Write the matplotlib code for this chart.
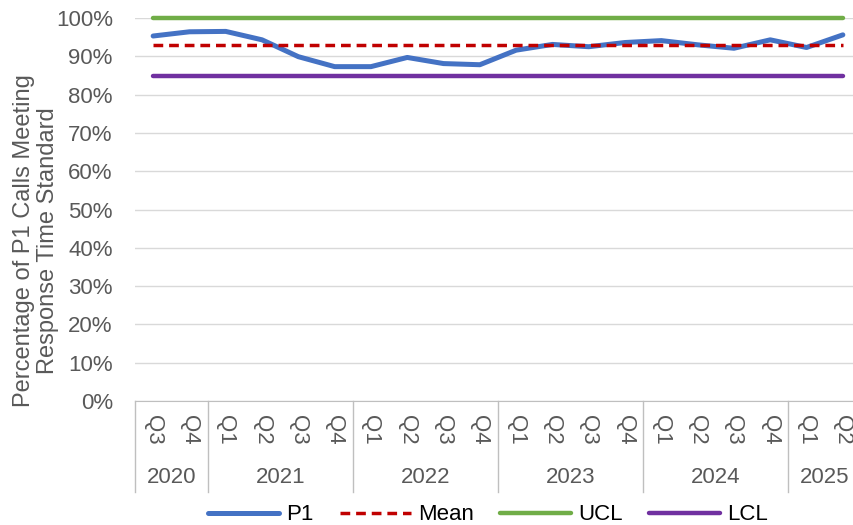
import matplotlib.pyplot as plt
import matplotlib.transforms as mtransforms
import numpy as np

plt.rcParams['font.family'] = ['Liberation Sans', 'DejaVu Sans']

quarters = ['Q3', 'Q4', 'Q1', 'Q2', 'Q3', 'Q4', 'Q1', 'Q2', 'Q3', 'Q4',
            'Q1', 'Q2', 'Q3', 'Q4', 'Q1', 'Q2', 'Q3', 'Q4', 'Q1', 'Q2']
years = ['2020', '2021', '2022', '2023', '2024', '2025']
year_counts = [2, 4, 4, 4, 4, 2]
p1 = [95.3, 96.4, 96.5, 94.3, 89.9, 87.3, 87.3, 89.7, 88.1, 87.8,
      91.6, 93.1, 92.5, 93.6, 94.1, 93.0, 92.1, 94.3, 92.3, 95.6]
mean_val = 93.0
ucl_val = 100.0
lcl_val = 84.8

n = len(p1)
x = np.arange(n)
grey_txt = '#595959'

fig = plt.figure(figsize=(8.54, 5.25), dpi=100)
# axes spans pixel 135..861 horizontally, 18..401 vertically
ax = fig.add_axes([135/854, 1 - 401/525, 726/854, 383/525])

ax.plot(x, p1, color='#4472C4', lw=3.6, solid_capstyle='round', label='P1', zorder=4)
ax.plot(x, [mean_val]*n, color='#C00000', lw=2.5, linestyle=(0, (2.8, 1.7)), label='Mean', zorder=5)
ax.plot(x, [ucl_val]*n, color='#70AD47', lw=3.2, solid_capstyle='round', label='UCL', zorder=3,
        clip_on=False)
ax.plot(x, [lcl_val]*n, color='#7030A0', lw=3.2, solid_capstyle='round', label='LCL', zorder=3)

ax.set_xlim(-0.5, n - 0.5)
ax.set_ylim(0, 100)
ax.set_yticks(np.arange(0, 101, 10))
ax.set_yticklabels([f'{v}%' for v in range(0, 101, 10)])
ax.tick_params(axis='y', length=0, pad=16, labelsize=16, labelcolor=grey_txt)
ax.set_xticks([])
ax.grid(axis='y', color='#D9D9D9', lw=1)
ax.set_axisbelow(True)
for s in ['top', 'right', 'left']:
    ax.spines[s].set_visible(False)
ax.spines['bottom'].set_color('#BFBFBF')

ax.set_ylabel('Percentage of P1 Calls Meeting\nResponse Time Standard',
              fontsize=17, color=grey_txt, linespacing=1.15)
ax.yaxis.set_label_coords(-0.104, 0.42)

# two-level category axis
trans = mtransforms.blended_transform_factory(ax.transData, ax.transAxes)
for i, q in enumerate(quarters):
    ax.text(i, -0.076, q, transform=trans, rotation=270, ha='center', va='center',
            fontsize=16, color=grey_txt)
start = 0
bounds = [-0.5]
for yr, c in zip(years, year_counts):
    ax.text(start + (c - 1) / 2, -0.201, yr, transform=trans, ha='center', va='center',
            fontsize=16, color=grey_txt)
    start += c
    bounds.append(start - 0.5)
for b in bounds:
    ax.plot([b, b], [0, -0.238], transform=trans, color='#BFBFBF', lw=1, clip_on=False)

fig.legend(loc='center', bbox_to_anchor=(488/854, 1 - 515/525), ncol=4, frameon=False,
           fontsize=16, handlelength=3.2, handletextpad=0.3, columnspacing=1.2)

fig.savefig('out.png', dpi=100)
